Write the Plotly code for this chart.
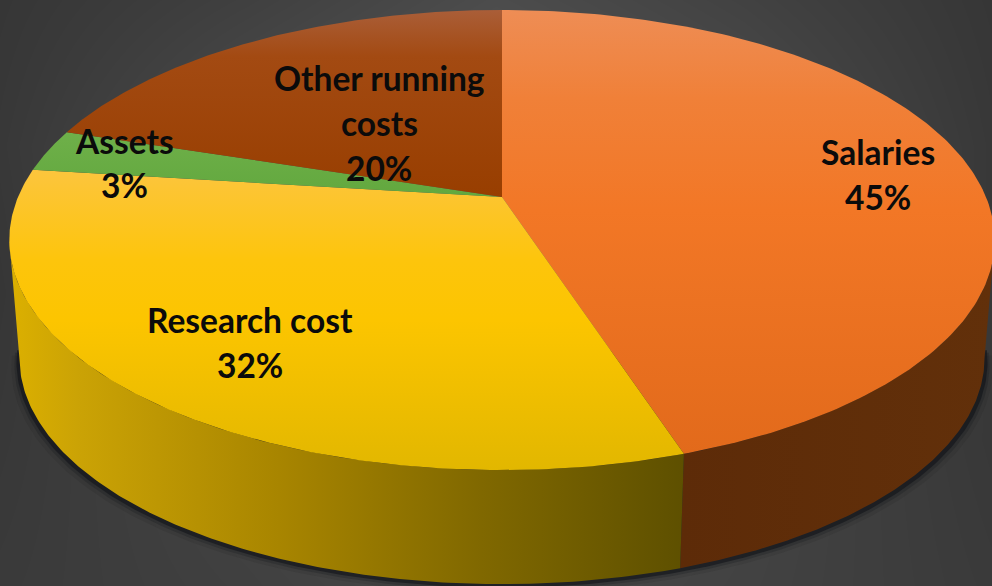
import numpy as np
import plotly.graph_objects as go

names = ["Salaries", "Research cost", "Assets", "Other running costs"]
shares = [45, 32, 3, 20]
label_lines = [["Salaries", "45%"], ["Research cost", "32%"], ["Assets", "3%"], ["Other running", "costs", "20%"]]
label_x = [878, 250, 124, 379]
label_y = [[152, 197], [320, 365], [141, 185], [78, 123, 168]]

bg_x = [0, 248, 496, 744, 992]
bg_y = [0, 146, 293, 440, 586]
bg_levels = [
    [54, 64, 76, 66, 54],
    [56, 76, 88, 76, 56],
    [54, 76, 90, 76, 56],
    [56, 68, 78, 68, 56],
    [58, 64, 72, 66, 58],
]

top_scales = [
    [[0, "#ee8d55"], [0.2, "#f08038"], [0.45, "#f27726"], [1, "#e26a1b"]],
    [[0, "#fcc53d"], [0.3, "#fdc50c"], [0.5, "#fcc500"], [1, "#e2b700"]],
    [[0, "#6fb04a"], [1, "#62a83e"]],
    [[0, "#aa5e38"], [0.25, "#a34a12"], [1, "#983e00"]],
]
top_ranges = [(10, 455), (170, 470), (130, 197), (10, 197)]
wall_scales = {
    0: [[0, "#5d2b08"], [1, "#62300a"]],
    1: [[0, "#dcb000"], [0.1, "#cba305"], [0.4, "#a88500"], [0.7, "#806800"], [1, "#5e5000"]],
}

# projected-disc parameters
CX, K = 502.0, 0.187
TOP = dict(apex=197.0, R=484.0, H=222.0)
BOT = dict(apex=316.0, R=474.0, H=218.0)


def project(t, d):
    u, v = np.sin(t), np.cos(t)
    w = 1 + K * v
    return CX + d["R"] * u / w, d["apex"] - d["H"] * v / w


edges = np.cumsum([0] + shares) / sum(shares) * 2 * np.pi
t_right = np.arccos(-K)
t_left = 2 * np.pi - t_right

fig = go.Figure()

# background
fig.add_trace(go.Heatmap(
    x=bg_x, y=bg_y, z=bg_levels, zmin=0, zmax=255, zsmooth="best", showscale=False, hoverinfo="skip",
    colorscale=[[0, "#000000"], [1, "#ffffff"]],
))

# soft shadow under the disc
ts = np.linspace(t_right - 0.05, t_left + 0.05, 240)
for dy, dr, alpha in [(9, 8, 0.10), (6, 5, 0.22), (3.5, 3, 0.55)]:
    d = dict(apex=BOT["apex"] + dy, R=BOT["R"] + dr, H=BOT["H"])
    x, y = project(ts, d)
    fig.add_trace(go.Scatter(x=x, y=y, mode="lines", line_width=0, fill="toself",
                             fillcolor=f"rgba(15,17,22,{alpha})", hoverinfo="skip"))

# walls
for i, scale in wall_scales.items():
    a = max(edges[i], t_right)
    b = min(edges[i + 1], t_left)
    t = np.linspace(a, b, 160)
    xt, yt = project(t, TOP)
    xb, yb = project(t[::-1], BOT)
    fig.add_trace(go.Scatter(
        x=np.r_[xt, xb, xt[0]], y=np.r_[yt, yb, yt[0]], mode="lines", line_width=0,
        fill="toself", hoverinfo="skip",
        fillgradient=dict(type="horizontal", colorscale=scale,
                          start=float(min(xt.min(), xb.min())), stop=float(max(xt.max(), xb.max()))),
    ))

# top slices
for i in range(len(shares)):
    t = np.linspace(edges[i], edges[i + 1], 200)
    xt, yt = project(t, TOP)
    x = np.r_[CX, xt, CX]
    y = np.r_[TOP["apex"], yt, TOP["apex"]]
    lo, hi = top_ranges[i]
    fig.add_trace(go.Scatter(
        x=x, y=y, mode="lines", line_width=0, fill="toself", name=names[i], hoverinfo="name",
        fillgradient=dict(type="vertical", colorscale=top_scales[i], start=lo, stop=hi),
    ))

annotations = []
for lines, lx, lys in zip(label_lines, label_x, label_y):
    for text, ly in zip(lines, lys):
        annotations.append(dict(x=lx, y=ly, text=text, showarrow=False, xanchor="center", yanchor="middle",
                                font=dict(family="Lato", size=33.5, color="#0b0b0b", weight=700)))

fig.update_layout(
    width=992, height=586, margin=dict(l=0, r=0, t=0, b=0), showlegend=False,
    paper_bgcolor="#404041", plot_bgcolor="#404041",
    xaxis=dict(range=[0, 992], visible=False, fixedrange=True),
    yaxis=dict(range=[586, 0], visible=False, fixedrange=True),
    annotations=annotations,
)
fig.write_html("out.html", config={"displayModeBar": False},
               post_script='document.body.style.margin="0";document.body.style.overflow="hidden";')
